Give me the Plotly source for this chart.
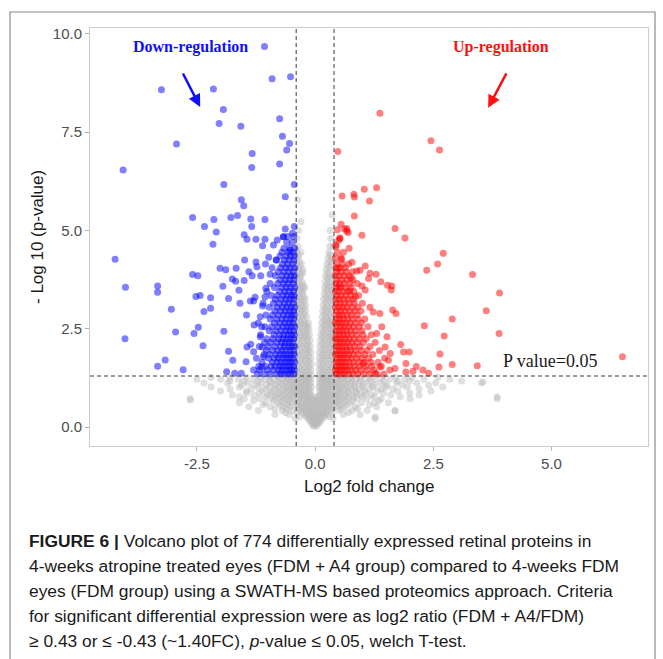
import plotly.graph_objects as go

# ---------------- data ----------------
# sparse down-regulated proteins (log2 FC, -log10 p)
blue_points = [
    (-1.07, 9.68), (-3.25, 8.58), (-2.15, 8.60), (-0.91, 8.86), (-0.52, 8.91),
    (-1.94, 8.08), (-2.03, 7.72), (-1.57, 7.65), (-2.93, 7.20), (-0.75, 7.84),
    (-0.69, 7.40), (-0.54, 7.21), (-0.60, 7.05), (-4.06, 6.54), (-1.33, 6.96),
    (-1.34, 6.60), (-0.75, 6.69), (-1.93, 6.17), (-0.44, 6.17), (-0.63, 5.86),
    (-1.56, 5.78), (-1.51, 5.63), (-2.59, 5.33), (-1.64, 5.38), (-1.78, 5.33),
    (-2.14, 5.28), (-1.36, 5.29), (-1.06, 5.28), (-2.34, 5.10), (-2.09, 4.96),
    (-1.34, 5.10), (-0.63, 5.04), (-0.44, 5.10), (-1.50, 4.89), (-0.48, 4.93),
    (-0.67, 4.84), (-4.23, 4.27), (-4.01, 3.56), (-4.02, 2.25), (-3.33, 3.59),
    (-3.33, 3.43), (-3.04, 3.00), (-2.95, 2.42), (-3.17, 1.71), (-3.33, 1.55),
    (-2.79, 1.46), (-2.59, 3.88), (-2.48, 3.85), (-2.52, 3.32), (-2.43, 3.35),
    (-2.21, 3.29), (-2.21, 3.02), (-2.35, 2.94), (-2.47, 2.54), (-2.56, 2.38),
    (-2.37, 2.07), (-2.16, 4.65), (-1.93, 2.44), (-1.83, 1.93), (-1.87, 1.41),
    (-1.74, 1.70), (-1.70, 1.37), (-1.56, 1.37), (-1.95, 3.58), (-2.01, 4.04),
    (-1.89, 4.00), (-1.83, 3.27), (-1.75, 3.77), (-1.67, 4.04), (-1.68, 3.71),
    (-1.61, 3.48), (-1.59, 3.15), (-1.50, 3.73), (-1.49, 4.25), (-1.45, 2.85),
    (-1.37, 3.21), (-1.40, 3.95), (-1.25, 4.20), (-1.23, 4.08), (-1.33, 3.85),
    (-1.30, 3.21), (-1.27, 3.30), (-1.29, 2.60), (-1.36, 2.11), (-1.44, 2.04),
    (-1.30, 1.92), (-1.46, 1.66), (-1.30, 1.45), (-1.44, 4.78), (-1.25, 4.78),
    (-1.11, 4.61), (-1.06, 4.78), (-0.98, 4.32), (-0.95, 3.89), (-1.04, 3.53),
    (-1.06, 3.31), (-1.11, 3.08), (-1.16, 2.81), (-1.13, 2.55), (-1.16, 2.30),
    (-1.12, 2.04), (-1.09, 1.79), (-1.13, 1.53), (-0.88, 4.63), (-0.80, 4.76),
    (-0.67, 4.84), (-0.53, 4.50), (-0.82, 4.25),
]
# dense part of the down-regulated cloud, row by row (-log10 p : log2 FC values)
blue_rows = {
    1.35: [-0.45, -0.52, -0.58, -0.66, -0.73, -0.81, -0.95, -1.08, -1.22],
    1.45: [-0.44, -0.49, -0.55, -0.62, -0.70, -0.77, -0.88, -1.01, -1.17],
    1.55: [-0.46, -0.53, -0.60, -0.68, -0.75, -0.84, -0.93, -1.05, -1.19],
    1.65: [-0.43, -0.50, -0.57, -0.64, -0.72, -0.80, -0.91, -1.12],
    1.75: [-0.47, -0.54, -0.61, -0.69, -0.78, -0.86, -0.98, -1.24],
    1.85: [-0.44, -0.51, -0.59, -0.66, -0.74, -0.83, -0.96, -1.08],
    1.95: [-0.46, -0.53, -0.62, -0.70, -0.79, -0.90, -1.03],
    2.05: [-0.43, -0.50, -0.57, -0.65, -0.73, -0.85, -0.99, -1.18],
    2.15: [-0.47, -0.55, -0.63, -0.71, -0.81, -0.94, -1.07],
    2.25: [-0.45, -0.52, -0.60, -0.68, -0.77, -0.89, -1.02],
    2.35: [-0.44, -0.50, -0.58, -0.66, -0.75, -0.87, -1.15],
    2.45: [-0.46, -0.54, -0.62, -0.72, -0.83, -0.97],
    2.55: [-0.43, -0.51, -0.59, -0.68, -0.79, -0.92, -1.06],
    2.65: [-0.47, -0.55, -0.64, -0.74, -0.86, -1.20],
    2.75: [-0.45, -0.52, -0.61, -0.70, -0.81, -0.95],
    2.85: [-0.44, -0.50, -0.58, -0.67, -0.78, -0.90, -1.04],
    2.95: [-0.46, -0.54, -0.63, -0.73, -0.85],
    3.05: [-0.43, -0.51, -0.60, -0.69, -0.80, -0.97],
    3.15: [-0.47, -0.56, -0.65, -0.76, -0.88, -1.10],
    3.25: [-0.45, -0.53, -0.62, -0.72, -0.84],
    3.35: [-0.44, -0.50, -0.59, -0.68, -0.80, -0.93],
    3.45: [-0.46, -0.55, -0.64, -0.75, -1.02],
    3.55: [-0.43, -0.52, -0.61, -0.71, -0.86],
    3.65: [-0.47, -0.57, -0.67, -0.79, -0.95],
    3.75: [-0.45, -0.54, -0.63, -0.74],
    3.85: [-0.44, -0.51, -0.60, -0.70, -0.84, -1.15],
    3.95: [-0.46, -0.56, -0.66, -0.78],
    4.05: [-0.43, -0.53, -0.62, -0.73, -0.91],
    4.15: [-0.47, -0.58, -0.69, -1.05],
    4.25: [-0.45, -0.55, -0.65, -0.82],
    4.35: [-0.44, -0.52, -0.61, -0.74],
    4.45: [-0.46, -0.57, -0.70],
    4.55: [-0.43, -0.54, -0.66],
    4.70: [-0.48, -0.60],
    4.85: [-0.45, -0.58],
}

# sparse up-regulated proteins
red_points = [
    (1.37, 7.98), (2.45, 7.28), (2.63, 7.05), (0.48, 7.01), (0.57, 5.88),
    (0.82, 5.92), (0.83, 5.85), (1.04, 6.05), (1.30, 6.09), (1.15, 5.75),
    (0.83, 5.37), (0.55, 5.16), (0.47, 5.02), (0.67, 5.05), (0.70, 4.95),
    (0.62, 5.04), (1.69, 5.05), (0.99, 4.88), (1.90, 4.81), (0.52, 4.81),
    (2.71, 4.42), (2.59, 4.15), (2.36, 3.99), (3.33, 3.88), (3.90, 3.41),
    (3.62, 2.96), (2.90, 2.75), (2.31, 2.58), (2.73, 2.32), (3.89, 2.38),
    (2.64, 1.86), (6.50, 1.79), (2.90, 1.59), (3.43, 1.56), (2.62, 1.53),
    (2.40, 1.37), (2.28, 1.45), (2.14, 1.54), (2.07, 1.42), (1.92, 1.40),
    (1.92, 1.62), (1.99, 1.91), (1.87, 1.91), (1.81, 2.10), (1.71, 2.89),
    (1.64, 2.98), (1.61, 3.49), (1.62, 3.59), (1.53, 3.61), (1.39, 3.70),
    (1.29, 3.89), (1.16, 3.91), (1.13, 3.78), (1.06, 4.10), (0.95, 3.99),
    (0.88, 3.97), (0.78, 4.19), (0.76, 3.80), (0.72, 4.55), (0.67, 4.99),
    (0.53, 4.80), (0.44, 4.63), (0.56, 4.27), (0.49, 4.04), (0.51, 3.57),
    (0.73, 3.47), (0.85, 3.32), (1.06, 3.49), (0.99, 3.59), (1.16, 3.05),
    (1.23, 2.93), (1.37, 2.89), (1.41, 2.55), (1.30, 2.38), (1.52, 2.30),
    (1.48, 2.04), (1.59, 1.87), (1.55, 1.70), (1.69, 1.49), (1.37, 1.53),
    (1.27, 1.37), (1.02, 1.62),
]
red_rows = {
    1.35: [0.44, 0.50, 0.56, 0.63, 0.71, 0.80, 0.90, 1.02, 1.15, 1.30, 1.45],
    1.45: [0.43, 0.48, 0.54, 0.61, 0.68, 0.76, 0.86, 0.97, 1.10, 1.24, 1.58],
    1.55: [0.45, 0.52, 0.58, 0.65, 0.73, 0.83, 0.94, 1.07, 1.20, 1.40],
    1.65: [0.44, 0.50, 0.57, 0.64, 0.72, 0.81, 0.92, 1.04, 1.18, 1.33],
    1.75: [0.46, 0.53, 0.60, 0.68, 0.77, 0.88, 1.00, 1.13, 1.47],
    1.85: [0.43, 0.49, 0.56, 0.63, 0.71, 0.80, 0.91, 1.05, 1.22],
    1.95: [0.45, 0.52, 0.59, 0.67, 0.75, 0.85, 0.97, 1.10, 1.36],
    2.05: [0.44, 0.50, 0.57, 0.65, 0.73, 0.83, 0.95, 1.16],
    2.15: [0.46, 0.53, 0.61, 0.69, 0.78, 0.89, 1.02, 1.27],
    2.25: [0.43, 0.49, 0.56, 0.64, 0.72, 0.82, 0.94, 1.08],
    2.35: [0.45, 0.52, 0.60, 0.68, 0.77, 0.88, 1.01, 1.19],
    2.45: [0.44, 0.51, 0.58, 0.66, 0.75, 0.86, 0.99],
    2.55: [0.46, 0.54, 0.62, 0.71, 0.81, 0.93, 1.12],
    2.65: [0.43, 0.50, 0.57, 0.65, 0.74, 0.85, 0.98],
    2.75: [0.45, 0.52, 0.60, 0.69, 0.79, 0.91, 1.05],
    2.85: [0.44, 0.51, 0.58, 0.67, 0.77, 0.89],
    2.95: [0.46, 0.54, 0.63, 0.73, 0.84, 0.97],
    3.05: [0.43, 0.50, 0.58, 0.67, 0.78, 0.90],
    3.15: [0.45, 0.53, 0.62, 0.72, 0.83, 1.00],
    3.25: [0.44, 0.51, 0.60, 0.70, 0.81],
    3.35: [0.46, 0.55, 0.65, 0.76, 0.92],
    3.45: [0.43, 0.50, 0.59, 0.69, 0.82],
    3.55: [0.45, 0.54, 0.64, 0.76],
    3.65: [0.44, 0.52, 0.62, 0.74, 0.89],
    3.75: [0.46, 0.56, 0.67, 0.80],
    3.85: [0.43, 0.51, 0.61, 0.72],
    3.95: [0.45, 0.55, 0.66, 0.79],
    4.05: [0.44, 0.53, 0.64],
    4.15: [0.46, 0.58, 0.71],
    4.30: [0.43, 0.55],
    4.45: [0.47, 0.60],
    4.60: [0.44],
    4.75: [0.50],
}

# not significant proteins, row by row
grey_rows = {
    0.02: [-0.03, 0.02],
    0.07: [-0.06, 0.00, 0.06],
    0.12: [-0.08, -0.02, 0.04, 0.09],
    0.17: [-0.12, -0.05, 0.01, 0.07, 0.13],
    0.22: [-0.15, -0.09, -0.03, 0.03, 0.09, 0.15, -0.42, 0.38, 1.27],
    0.27: [-0.19, -0.11, -0.04, 0.05, 0.12, 0.20, -0.33, 0.30],
    0.32: [-0.22, -0.14, -0.06, 0.02, 0.10, 0.18, 0.25, -0.55, 0.60, -0.85, 0.95],
    0.37: [-0.26, -0.17, -0.09, 0.00, 0.08, 0.16, 0.23, -0.38, 0.36, -0.62, 0.70],
    0.42: [-0.30, -0.21, -0.12, -0.03, 0.06, 0.15, 0.24, 0.32, -0.48, -0.70, 0.50, 0.78, -1.20, 1.69, 1.10],
    0.47: [-0.33, -0.24, -0.14, -0.04, 0.06, 0.16, 0.26, 0.37, -0.60, 0.56, -0.85, 0.90],
    0.52: [-0.36, -0.26, -0.16, -0.06, 0.04, 0.14, 0.24, 0.34, -0.52, -0.68, -0.95, 0.47, 0.62, 0.85, 1.30, -1.40],
    0.57: [-0.40, -0.31, -0.21, -0.11, -0.01, 0.09, 0.19, 0.29, 0.39, -0.58, -0.74, 0.52, 0.68, -1.10, 1.15],
    0.62: [-0.38, -0.28, -0.18, -0.08, 0.02, 0.12, 0.22, 0.32, -0.50, -0.64, -0.80, -1.05, 0.45, 0.58, 0.74, 0.98, 1.25, -1.60, 1.55],
    0.67: [-0.33, -0.23, -0.13, -0.03, 0.07, 0.17, 0.27, 0.37, -0.55, -0.70, -0.88, 0.50, 0.64, 0.80, -1.30, 1.35],
    0.72: [-0.37, -0.27, -0.17, -0.07, 0.03, 0.13, 0.23, 0.33, -0.48, -0.60, -0.75, -0.92, -1.18, 0.44, 0.56, 0.70, 0.88, 1.10, 1.40, -2.64, 2.01, 3.85, -1.50],
    0.77: [-0.32, -0.22, -0.12, -0.02, 0.08, 0.18, 0.28, -0.45, -0.56, -0.70, -0.85, -1.05, 0.42, 0.52, 0.66, 0.82, 1.00, 1.25, -1.60, 1.80],
    0.82: [-0.39, -0.29, -0.19, -0.09, 0.09, 0.21, 0.31, 0.39, -0.52, -0.66, -0.82, -1.00, -1.30, 0.48, 0.62, 0.78, 0.96, 1.20, 1.60, -1.75, 2.20],
    0.87: [-0.34, -0.24, -0.14, 0.14, 0.24, 0.34, -0.49, -0.62, -0.77, -0.95, -1.18, 0.45, 0.55, 0.70, 0.88, 1.08, 1.45, -1.45, 2.00],
    0.92: [-0.38, -0.30, -0.20, -0.10, 0.10, 0.20, 0.30, -0.46, -0.58, -0.72, -0.90, -1.12, -1.45, 0.46, 0.57, 0.70, 0.86, 1.05, 1.32, 1.75, -2.00, 2.45],
    0.97: [-0.33, -0.23, -0.13, 0.13, 0.23, 0.33, -0.44, -0.55, -0.68, -0.84, -1.05, -1.35, 0.50, 0.62, 0.77, 0.93, 1.15, 1.40, 1.65, -1.80, 2.20],
    1.02: [-0.37, -0.27, -0.17, -0.08, 0.08, 0.17, 0.27, 0.35, -0.50, -0.62, -0.78, -0.96, -1.20, -1.60, 0.44, 0.55, 0.68, 0.83, 1.00, 1.22, 1.50, 1.95, -2.20, 2.70],
    1.07: [-0.33, -0.23, -0.13, 0.13, 0.24, 0.33, -0.45, -0.55, -0.68, -0.84, -1.03, -1.28, 0.42, 0.53, 0.67, 0.83, 1.02, 1.25, 1.52, -1.55, 1.85, 2.40],
    1.12: [-0.39, -0.29, -0.19, -0.09, 0.09, 0.19, 0.29, 0.37, -0.47, -0.60, -0.74, -0.92, -1.15, -1.42, -1.85, 0.47, 0.60, 0.75, 0.92, 1.12, 1.38, 1.72, 2.15, 2.55, 3.52, -2.35],
    1.17: [-0.33, -0.23, -0.14, 0.14, 0.23, 0.33, -0.50, -0.63, -0.78, -0.96, -1.20, -1.50, 0.50, 0.63, 0.78, 0.96, 1.18, 1.45, 1.75, 2.00, -1.80, 3.10],
    1.22: [-0.38, -0.28, -0.18, -0.09, 0.09, 0.18, 0.28, 0.36, -0.45, -0.56, -0.70, -0.86, -1.05, -1.30, -1.62, -2.00, 0.45, 0.56, 0.70, 0.86, 1.05, 1.28, 1.58, 1.90, 2.30, 2.85, -2.50],
    1.27: [-0.33, -0.23, -0.13, 0.13, 0.22, 0.32, -0.50, -0.62, -0.77, -0.95, -1.15, -1.45, -1.80, 0.50, 0.63, 0.78, 0.95, 1.16, 1.42, 1.70, 2.05, 2.60, -2.20],
    1.32: [-0.37, -0.27, -0.17, -0.08, 0.08, 0.17, 0.27, 0.36],
    1.38: [-0.32, -0.22, -0.13, 0.13, 0.22, 0.32],
    1.45: [-0.38, -0.28, -0.18, -0.09, 0.09, 0.18, 0.28, 0.37],
    1.52: [-0.33, -0.23, -0.13, 0.13, 0.23, 0.33],
    1.60: [-0.36, -0.26, -0.16, -0.08, 0.08, 0.17, 0.27, 0.37],
    1.68: [-0.31, -0.21, -0.13, 0.13, 0.22, 0.32],
    1.75: [-0.39, -0.29, -0.19, -0.09, 0.09, 0.18, 0.28, 0.38],
    1.82: [-0.33, -0.23, -0.14, 0.14, 0.23, 0.33],
    1.90: [-0.37, -0.27, -0.17, -0.09, 0.09, 0.19, 0.29, 0.37],
    1.97: [-0.32, -0.22, -0.14, 0.15, 0.24, 0.34],
    2.05: [-0.38, -0.28, -0.18, -0.10, 0.10, 0.20, 0.30, 0.38],
    2.12: [-0.33, -0.23, -0.15, 0.15, 0.25, 0.34],
    2.20: [-0.36, -0.27, -0.18, -0.11, 0.11, 0.20, 0.30, 0.37],
    2.28: [-0.32, -0.24, -0.16, 0.16, 0.26, 0.34],
    2.35: [-0.39, -0.30, -0.21, -0.12, 0.12, 0.21, 0.31, 0.38],
    2.42: [-0.33, -0.25, -0.17, 0.17, 0.27, 0.35],
    2.50: [-0.37, -0.28, -0.19, -0.13, 0.13, 0.22, 0.31, 0.37],
    2.58: [-0.33, -0.24, -0.17, 0.18, 0.27, 0.35],
    2.65: [-0.38, -0.30, -0.21, -0.14, 0.14, 0.23, 0.32, 0.38],
    2.72: [-0.33, -0.24, 0.19, 0.28, 0.36],
    2.80: [-0.36, -0.27, -0.18, 0.15, 0.24, 0.33],
    2.88: [-0.32, -0.23, 0.20, 0.30],
    2.95: [-0.38, -0.29, -0.20, 0.16, 0.25, 0.35],
    3.02: [-0.33, -0.24, 0.21, 0.31],
    3.10: [-0.37, -0.28, -0.20, 0.17, 0.26, 0.36],
    3.18: [-0.33, -0.25, 0.22, 0.32],
    3.25: [-0.39, -0.30, -0.21, 0.18, 0.27, 0.37],
    3.32: [-0.33, -0.24, 0.23, 0.33],
    3.40: [-0.36, -0.27, 0.19, 0.28, 0.37],
    3.48: [-0.32, -0.25, 0.24, 0.34],
    3.55: [-0.38, -0.29, -0.22, 0.20, 0.29, 0.38],
    3.62: [-0.33, -0.25, 0.25, 0.34],
    3.70: [-0.37, -0.28, 0.21, 0.30],
    3.78: [-0.33, 0.26, 0.35],
    3.85: [-0.39, -0.30, 0.22, 0.31, 0.38],
    3.92: [-0.33, -0.26, 0.27],
    4.00: [-0.36, -0.26, 0.23, 0.33],
    4.08: [-0.32, 0.29],
    4.15: [-0.38, -0.29, 0.25, 0.35],
    4.22: [-0.33, 0.31],
    4.30: [-0.37, 0.27, 0.36],
    4.38: [-0.34, 0.32],
    4.45: [-0.39, -0.30, 0.29],
    4.60: [-0.36, 0.31, 0.38],
    4.80: [-0.38, 0.33],
    5.00: [-0.35, 0.32],
    5.22: [-0.30],
    5.40: [0.36],
    5.78: [-0.37],
}
grey_points = [(-2.64, 0.69), (3.85, 0.77), (3.55, 1.15), (1.69, 0.41), (1.27, 0.26)]

# thresholds
fc_cut = 0.4
p_cut = 1.30

x_ticks = [-2.5, 0.0, 2.5, 5.0]
x_labels = ["-2.5", "0.0", "2.5", "5.0"]
y_ticks = [0.0, 2.5, 5.0, 7.5, 10.0]
y_labels = ["0.0", "2.5", "5.0", "7.5", "10.0"]


def collect(points, rows):
    xs = [p[0] for p in points]
    ys = [p[1] for p in points]
    for yv, xl in rows.items():
        for xv in xl:
            xs.append(xv)
            ys.append(yv)
    return xs, ys


grey_x, grey_y = collect(grey_points, grey_rows)
blue_x, blue_y = collect(blue_points, blue_rows)
red_x, red_y = collect(red_points, red_rows)

# ---------------- figure ----------------
W, H = 663, 659
L, R, T, B = 90, 648, 28, 446   # plot area in pixels


def px(xp):
    return (xp - L) / (R - L)


def py(yp):
    return (B - yp) / (B - T)


fig = go.Figure()
for xs, ys, col in [(grey_x, grey_y, "rgba(185,185,185,0.45)"),
                    (blue_x, blue_y, "rgba(0,0,255,0.5)"),
                    (red_x, red_y, "rgba(255,0,0,0.5)")]:
    fig.add_trace(go.Scatter(x=xs, y=ys, mode="markers",
                             marker=dict(size=7, color=col, line=dict(width=0)),
                             hoverinfo="skip", showlegend=False))

dash = dict(color="#3a3a3a", width=1, dash="4px,3px")
fig.add_shape(type="line", xref="x", yref="paper", x0=-fc_cut, x1=-fc_cut, y0=0, y1=1, line=dash)
fig.add_shape(type="line", xref="x", yref="paper", x0=fc_cut, x1=fc_cut, y0=0, y1=1, line=dash)
fig.add_shape(type="line", xref="paper", yref="y", x0=0, x1=1, y0=p_cut, y1=p_cut, line=dash)

# outer figure border
fig.add_shape(type="rect", xref="paper", yref="paper",
              x0=px(10), x1=px(655), y0=py(700), y1=py(12),
              line=dict(color="#8a8a8a", width=1.2), layer="below")

serif = "Liberation Serif, Times New Roman, serif"
sans = "Liberation Sans, Arial, sans-serif"
ann = [
    dict(x=px(190), y=py(47), text="<b>Down-regulation</b>",
         font=dict(family=serif, size=16, color="#1010ff")),
    dict(x=px(501), y=py(47), text="<b>Up-regulation</b>",
         font=dict(family=serif, size=16, color="#ff1010")),
    dict(x=px(550), y=py(361), text="P value=0.05",
         font=dict(family=serif, size=18, color="#1a1a1a")),
    dict(x=px(369), y=py(487), text="Log2 fold change",
         font=dict(family=sans, size=17, color="#1a1a1a")),
    dict(x=px(37), y=py(237), text="- Log 10 (p-value)", textangle=-90,
         font=dict(family=sans, size=17, color="#1a1a1a")),
]
for a in ann:
    fig.add_annotation(xref="paper", yref="paper", showarrow=False,
                       xanchor="center", yanchor="middle", **a)

# arrows
fig.add_annotation(x=-2.43, y=8.14, xref="x", yref="y", ax=-18, ay=-35, text="",
                   showarrow=True, arrowhead=2, arrowsize=1, arrowwidth=2.5, arrowcolor="#1010ff")
fig.add_annotation(x=3.66, y=8.12, xref="x", yref="y", ax=19, ay=-36, text="",
                   showarrow=True, arrowhead=2, arrowsize=1, arrowwidth=2.5, arrowcolor="#ff1010")

caption = [
    "<b>FIGURE 6 |</b> Volcano plot of 774 differentially expressed retinal proteins in",
    "4-weeks atropine treated eyes (FDM + A4 group) compared to 4-weeks FDM",
    "eyes (FDM group) using a SWATH-MS based proteomics approach. Criteria",
    "for significant differential expression were as log2 ratio (FDM + A4/FDM)",
    "≥ 0.43 or ≤ -0.43 (~1.40FC), <i>p</i>-value ≤ 0.05, welch T-test.",
]
cap_font = dict(family="Liberation Sans, Arial", size=17.4, color="#1a1a1a")
for i, line in enumerate(caption):
    fig.add_annotation(xref="paper", yref="paper", x=px(27), y=py(541 + 25 * i),
                       xanchor="left", yanchor="middle", showarrow=False,
                       text=line, font=cap_font)

axis_common = dict(showgrid=False, zeroline=False, showline=True, mirror=True,
                   linecolor="#cccccc", linewidth=1, ticks="outside", ticklen=4,
                   tickcolor="#b3b3b3",
                   tickfont=dict(family=sans, size=15, color="#4d4d4d"))
fig.update_xaxes(range=[-4.76, 7.04], tickvals=x_ticks, ticktext=x_labels, **axis_common)
fig.update_yaxes(range=[-0.48, 10.15], tickvals=y_ticks, ticktext=y_labels, **axis_common)

fig.update_layout(width=W, height=H, autosize=False,
                  margin=dict(l=L, r=W - R, t=T, b=H - B, pad=0),
                  paper_bgcolor="white", plot_bgcolor="white")

fig.write_html("out.html")
